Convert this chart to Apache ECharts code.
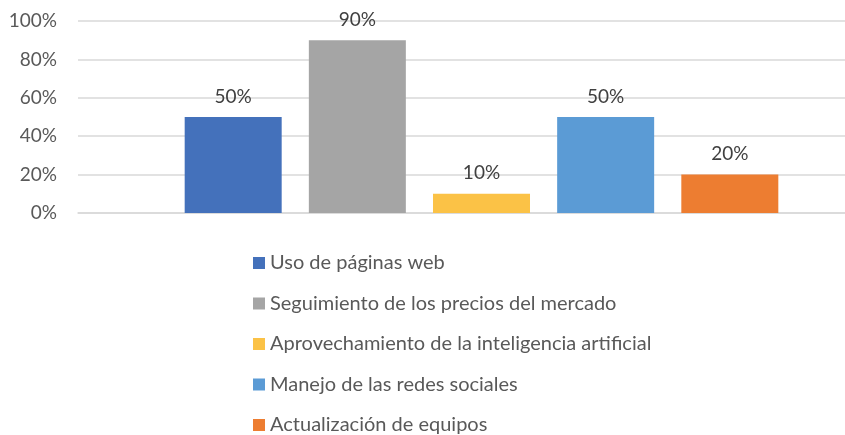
<!DOCTYPE html>
<html>
<head>
<meta charset="utf-8">
<script src="https://cdn.jsdelivr.net/npm/echarts@6/dist/echarts.min.js"></script>
<style>
  html, body { margin: 0; padding: 0; background: #fff; }
  #chart { width: 845px; height: 435px; }
</style>
</head>
<body>
<div id="chart"></div>
<script>
// datos
var categorias = [''];
var series = ['Uso de páginas web', 'Seguimiento de los precios del mercado', 'Aprovechamiento de la inteligencia artificial', 'Manejo de las redes sociales', 'Actualización de equipos'];
var valores = [50, 90, 10, 50, 20];
var colores = ['#4471BB', '#A5A5A5', '#FBC246', '#5B9BD5', '#ED7D31'];
var ticksY = [0, 20, 40, 60, 80, 100];

var fuente = 'Lato';
var chart = echarts.init(document.getElementById('chart'));

var listaSeries = [];
for (var i = 0; i < series.length; i++) {
    listaSeries.push({
        name: series[i],
        type: 'bar',
        xAxisIndex: 1,
        yAxisIndex: 1,
        data: [valores[i]],
        barWidth: 97,
        barGap: '28%',
        itemStyle: { color: colores[i] },
        label: {
            show: true,
            position: 'top',
            distance: 11,
            formatter: '{c}%',
            color: '#404040',
            fontSize: 19,
            fontFamily: fuente
        }
    });
}

var option = {
    animation: false,
    // grid 0: rejilla y eje Y; grid 1: barras (el área real sigue fuera de la imagen)
    grid: [
        { left: 78, top: 21, right: 0, height: 192 },
        { left: 118, top: 21, right: 0, height: 192 }
    ],
    xAxis: [{
        type: 'category',
        gridIndex: 0,
        data: categorias,
        axisLine: { show: true, lineStyle: { color: '#d9d9d9', width: 1.5 } },
        axisTick: { show: false },
        axisLabel: { show: false }
    }, {
        type: 'category',
        gridIndex: 1,
        data: categorias,
        axisLine: { show: false },
        axisTick: { show: false },
        axisLabel: { show: false }
    }],
    yAxis: [{
        type: 'value',
        gridIndex: 0,
        min: ticksY[0],
        max: ticksY[ticksY.length - 1],
        interval: 20,
        axisLine: { show: false },
        axisTick: { show: false },
        axisLabel: {
            formatter: '{value}%',
            color: '#595959',
            fontSize: 19,
            fontFamily: fuente,
            margin: 21
        },
        splitLine: { lineStyle: { color: '#d9d9d9', width: 1.5 } }
    }, {
        type: 'value',
        gridIndex: 1,
        min: ticksY[0],
        max: ticksY[ticksY.length - 1],
        interval: 20,
        axisLine: { show: false },
        axisTick: { show: false },
        axisLabel: { show: false },
        splitLine: { show: false }
    }],
    legend: {
        orient: 'vertical',
        left: 253,
        top: 251,
        height: 230,
        padding: 0,
        itemWidth: 12,
        itemHeight: 12,
        itemGap: 16.5,
        icon: 'rect',
        textStyle: { color: '#595959', fontSize: 20, lineHeight: 24, fontFamily: fuente },
        data: series
    },
    series: listaSeries
};
chart.setOption(option);
</script>
</body>
</html>
